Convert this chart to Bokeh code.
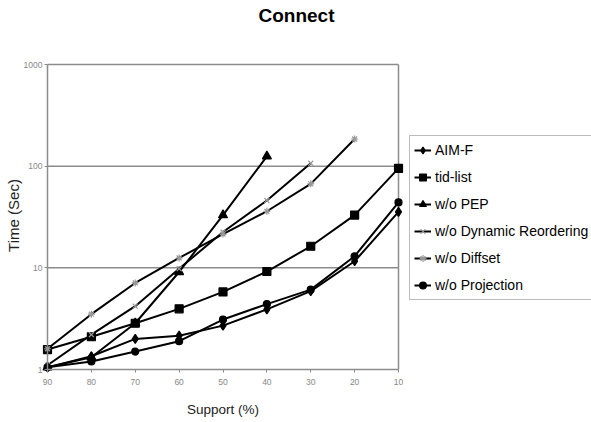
import math
from bokeh.plotting import figure
from bokeh.models import Range1d, FixedTicker, Legend, LegendItem, NumeralTickFormatter, Label
from bokeh.embed import file_html
from bokeh.resources import INLINE

# ---- data ----
support = [90, 80, 70, 60, 50, 40, 30, 20, 10]
aim_f = [1.05, 1.35, 2.0, 2.15, 2.7, 3.9, 5.9, 11.6, 35.5]
tid_list = [1.57, 2.1, 2.85, 3.95, 5.8, 9.2, 16.3, 33.0, 95.0]
wo_pep = [1.05, 1.32, 2.85, 9.1, 33.0, 125.0]
wo_dynamic = [1.1, 2.2, 4.2, 9.8, 22.5, 46.0, 107.0]
wo_diffset = [1.6, 3.5, 7.1, 12.5, 21.5, 36.0, 67.0, 185.0]
wo_projection = [1.05, 1.2, 1.5, 1.9, 3.1, 4.4, 6.1, 13.0, 44.0]
series_names = ["AIM-F", "tid-list", "w/o PEP", "w/o Dynamic Reordering", "w/o Diffset", "w/o Projection"]
y_ticks = [1, 10, 100, 1000]
y_tick_labels = ["1", "10", "100", "1000"]

FONT = "Liberation Sans"
GRAY = "#8c8c8c"

# ---- layout (pixels inside the figure) ----
W, H = 591, 422
PL, PR, PT, PB = 47, 398, 64, 369          # plot-area edges
x_hi, x_lo = support[0], support[-1]
y_lo, y_hi = y_ticks[0], y_ticks[-1]
ux = (PR - PL) / (x_hi - x_lo)             # px per support unit
uy = (PB - PT) / (math.log10(y_hi) - math.log10(y_lo))  # px per decade
x_range = Range1d(x_hi + PL / ux, x_lo - (W - PR) / ux)
y_range = Range1d(10 ** (math.log10(y_lo) - (H - PB) / uy), 10 ** (math.log10(y_hi) + PT / uy))

p = figure(width=W, height=H, x_range=x_range, y_range=y_range,
           y_axis_type="log", output_backend="svg", toolbar_location=None,
           min_border_left=0, min_border_right=0, min_border_top=0, min_border_bottom=0,
           background_fill_color="white", border_fill_color="white")
p.outline_line_color = None
p.xgrid.grid_line_color = None
p.ygrid.grid_line_color = None

p.xaxis.fixed_location = y_lo
p.yaxis.fixed_location = x_hi
p.xaxis.bounds = (x_lo, x_hi)
p.yaxis.bounds = (y_lo, y_hi)
p.xaxis.ticker = FixedTicker(ticks=support)
p.yaxis.ticker = FixedTicker(ticks=y_ticks)
p.yaxis.formatter = NumeralTickFormatter(format="0")
p.yaxis.major_label_overrides = {t: l for t, l in zip(y_ticks, y_tick_labels)}

for ax in (p.xaxis[0], p.yaxis[0]):
    ax.axis_line_color = GRAY
    ax.axis_line_width = 1.5
    ax.major_tick_line_color = GRAY
    ax.major_tick_out = 3
    ax.major_tick_in = 0
    ax.minor_tick_line_color = None
    ax.major_label_text_font = FONT
    ax.major_label_text_font_size = "8.5px"
    ax.major_label_text_color = "#888888"
p.xaxis.major_label_standoff = 6
p.yaxis.major_label_standoff = 2

# horizontal grid lines and right border of the plot area
grid_y = y_ticks[1:]
p.segment(x0=[x_hi] * len(grid_y), y0=grid_y, x1=[x_lo] * len(grid_y), y1=grid_y,
          line_color=GRAY, line_width=1.5)
p.segment(x0=[x_lo], y0=[y_lo], x1=[x_lo], y1=[y_hi], line_color=GRAY, line_width=1.5)

data = [aim_f, tid_list, wo_pep, wo_dynamic, wo_diffset, wo_projection]
markers = ["diamond", "square", "triangle", "x", "asterisk", "circle"]
sizes = [9, 8, 9, 7, 7, 7]
mcolors = ["black", "black", "black", "#999999", "#999999", "black"]

items = []
for name, ys, mk, sz, mc in zip(series_names, data, markers, sizes, mcolors):
    xs = support[:len(ys)]
    lr = p.line(xs, ys, line_color="black", line_width=2)
    sr = p.scatter(xs, ys, marker=mk, size=sz, fill_color=mc, line_color=mc, line_width=1.2)
    items.append(LegendItem(label=name, renderers=[lr, sr]))

legend = Legend(items=items, location=(409, H - 300))
legend.label_text_font = FONT
legend.label_text_font_size = "14px"
legend.label_text_color = "black"
legend.glyph_width = 17
legend.glyph_height = 20
legend.label_height = 20
legend.spacing = 7
legend.padding = 4
legend.margin = 0
legend.label_standoff = 4
legend.border_line_color = "#7a7a7a"
legend.border_line_width = 1.5
legend.background_fill_color = "white"
legend.background_fill_alpha = 1.0
p.add_layout(legend)

# titles
p.add_layout(Label(x=296, y=H - 15, x_units="screen", y_units="screen", text="Connect",
                   text_font=FONT, text_font_size="19px", text_font_style="bold",
                   text_align="center", text_baseline="middle", text_color="black"))
p.add_layout(Label(x=(PL + PR) / 2, y=H - 409, x_units="screen", y_units="screen",
                   text="Support (%)", text_font=FONT, text_font_size="13.5px",
                   text_align="center", text_baseline="middle", text_color="#222222"))
p.add_layout(Label(x=13, y=H - 215, x_units="screen", y_units="screen",
                   text="Time (Sec)", angle=math.pi / 2, text_font=FONT, text_font_size="15px",
                   text_align="center", text_baseline="middle", text_color="#222222"))

open("out.html", "w").write(file_html(p, INLINE))
